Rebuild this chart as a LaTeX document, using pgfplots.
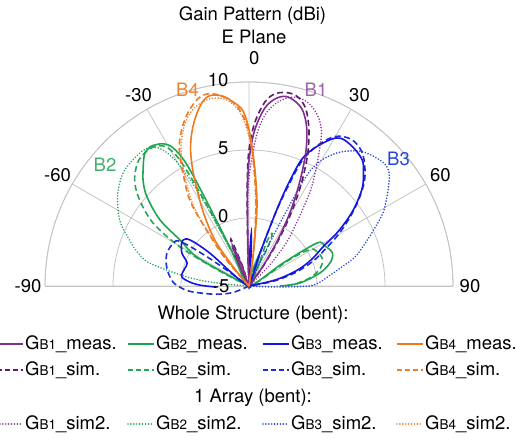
\documentclass[border=0pt]{standalone}
\usepackage{fontspec}
\setmainfont{TeX Gyre Heros}
\usepackage{pgfplots}
\pgfplotsset{compat=1.18}
\usepgfplotslibrary{polar}
\usetikzlibrary{calc}

\definecolor{gridgray}{HTML}{C4C4C4}
\definecolor{pmeas}{HTML}{7E2F8E}
\definecolor{psim}{HTML}{5E1A6E}
\definecolor{psimb}{HTML}{8A3A9A}
\definecolor{gmeas}{HTML}{1FA550}
\definecolor{gsim}{HTML}{28A658}
\definecolor{gsimb}{HTML}{2BA562}
\definecolor{bmeas}{HTML}{1414E6}
\definecolor{bsim}{HTML}{1A2ED2}
\definecolor{bsimb}{HTML}{2448D8}
\definecolor{omeas}{HTML}{EE7A1E}
\definecolor{osim}{HTML}{EC7C26}
\definecolor{osimb}{HTML}{EE8433}

\newcommand\lf{\fontsize{18.5}{22}\selectfont}
\newcommand\gb[1]{G{\fontsize{13.5}{13.5}\selectfont B#1}}

\tikzset{
  meas/.style={line width=1.6pt},
  sim/.style={line width=1.6pt, dash pattern=on 6pt off 3.5pt},
  simb/.style={line width=1.8pt, line cap=round, dash pattern=on 0.01pt off 2.9pt},
}
\pgfplotsset{
  pat/.style={table/x expr={90-\thisrow{a}}, table/y expr={\thisrow{g}+5}},
}

\begin{document}
\begin{tikzpicture}
\begin{polaraxis}[
  scale only axis, width=408pt, height=408pt,
  xmin=0, xmax=180, ymin=0, ymax=15,
  xtick={0,30,...,180}, ytick={5,10,15},
  xticklabels={}, yticklabels={},
  grid=major,
  major grid style={draw=gridgray, line width=0.8pt},
  axis line style={draw=gridgray, line width=0.8pt},
  major tick length=0pt,
  clip=false,
  every axis plot/.append style={smooth, tension=0.55},
]
% ---- B2 (green) ----
\addplot[gsimb, simb] table[pat] {
a g
-87 -5
-84.6 -2.6
-81.7 -0.4
-77 2.5
-73 3.6
-69 4.4
-64 5.5
-59 6.25
-54 6.9
-48 7.45
-43 7.6
-38 7.65
-35 7.45
-32.5 6.9
-30.5 5.8
-29 4.0
-28 1.5
-27 -2.0
-25.5 -5
};
\addplot[gsim, sim] table[pat] {
a g
-65 -5
-63 -2.5
-60.5 0.8
-56.7 3.45
-51.3 5.4
-47 6.5
-42.3 7.2
-39 7.4
-36 7.45
-33 7.3
-30.5 6.8
-28.8 5.6
-27.8 3.0
-27.2 0.0
-26.5 -3.0
-25 -5
22 -1.5
24 -0.8
26 -2.0
28 -5
57 -1.5
59 0.2
63 0.6
70 0.75
76 0.4
82 -0.4
87 -1.5
90 -2.5
};
\addplot[gmeas, meas] table[pat] {
a g
-64 -5
-62.5 -3.5
-60.9 -0.6
-56.3 1.1
-53.4 3.15
-48.9 4.95
-45.5 5.9
-42.4 6.55
-38.5 7.35
-35.5 7.55
-33.5 7.45
-31 7.2
-28.8 6.6
-27.2 5.2
-26.6 2.5
-26.2 -2.0
-25.5 -5
18 -2.5
21 -5
56 -2.0
57.7 0.9
62 1.3
68.5 1.6
74 1.2
79.6 0.3
86.6 -1.25
90 -2.7
};
% ---- B3 (blue) ----
\addplot[bsimb, simb] table[pat] {
a g
24 -5
25.5 -2.0
26.5 1.0
27.5 4.0
29.5 5.5
34 6.85
40 7.9
47 8.4
51 8.25
54.5 7.6
58 6.9
61.5 6.2
66 5.0
71 3.85
75 3.0
79 1.8
83 0.9
87 0.2
90 -0.6
92 -3.0
94 -5
};
\addplot[bsim, sim] table[pat] {
a g
-120 -5
-112 -3.7
-104 -2.5
-98 -1.35
-94 -0.4
-88 0.5
-81 1.0
-75 1.3
-68 1.5
-61 1.4
-57 1.0
-55 -1.5
-53 -5
17 -5
18.5 -2.5
20 0.8
21.5 3.0
23 5.0
26 6.5
30 7.7
35 8.15
40 7.9
44.3 7.2
48 6.4
52 5.2
56 3.9
60 2.6
64 1.3
69 0.0
74 -1.5
79 -3.2
84 -5
};
\addplot[bmeas, meas] table[pat] {
a g
-92 -2.6
-89 -1.4
-86 -0.6
-82 0.0
-75 -0.1
-69.6 -0.15
-63.8 0.5
-58 0.85
-55 0.9
-52 0.5
-50 -1.25
-48 -5
1 -3.0
2.5 -1.1
4 -3.0
17 -5
18.5 -2.5
20 0.9
21 3.0
22.5 5.0
25 6.1
29 7.3
32 7.8
37 7.75
42 7.45
45 6.9
49 6.05
53 4.8
56 3.7
59 2.5
62 1.2
67 0.0
72 -1.3
77 -3.0
82 -5
};
% ---- B1 (purple) ----
\addplot[psimb, simb] table[pat] {
a g
-3 -5
-2 -3.0
-1 0.5
0 3.0
3 6.2
6 7.9
10 8.9
14 9.3
18 9.15
22 8.5
25 7.6
27 6.5
30 4.8
33 3.2
37 0.8
41 -0.9
45 -3.0
48 -5
};
\addplot[psim, sim] table[pat] {
a g
-28 -5
-24 -2.5
-21 -1.3
-18 -3.5
-15 -5
-2 -2.5
-1 2.5
0 5.0
2 7.0
5 8.6
8 9.3
12 9.5
15 9.3
18 8.6
21 7.3
24 5.6
27 3.5
30 1.2
33 -1.2
36 -3.4
39 -5
};
\addplot[pmeas, meas] table[pat] {
a g
-28 -5
-25 -3.5
-22 -1.8
-19 -3.5
-16 -5
-2 -3.5
-1 1.6
0 4.2
2 6.4
5 8.1
8 8.9
11 9.2
14 9.0
17 8.5
20 7.4
23 5.7
26 3.5
29 1.3
32 -1.0
35 -3.2
38 -5
};
% ---- B4 (orange) ----
\addplot[osimb, simb] table[pat] {
a g
-44 -5
-41 -2.8
-38 -0.8
-35 2.0
-31 4.0
-27 6.0
-23 7.4
-19 8.4
-15 8.9
-11 9.05
-7 8.8
-3 7.8
0 6.0
2 4.2
4 2.0
6 -0.5
8 -3.5
10 -5
};
\addplot[osim, sim] table[pat] {
a g
-44 -5
-41 -2.5
-38 -0.5
-35 2.4
-31 4.3
-27 6.3
-23 7.6
-19 8.6
-15 9.3
-12 9.45
-8 9.1
-4 8.3
-1 7.0
1 5.3
3 3.0
5 0.8
7 -2.0
9 -5
};
\addplot[omeas, meas] table[pat] {
a g
-42 -5
-40 -3.5
-37 -1.0
-33 0.8
-30 2.2
-26 4.4
-23 6.0
-20 7.2
-17 8.2
-14 9.0
-11.5 9.3
-8 9.1
-5 8.6
-2 7.9
0 6.5
2 4.5
4 2.5
6 0.5
8 -3.0
10 -5
};
% angle labels
\foreach \t in {-90,-60,-30,30,60,90} {
  \edef\tmp{\noexpand\node[font=\noexpand\lf] at (axis cs:{90-\t},16.25) {\t};}
  \tmp
}
\node[font=\lf] at (axis cs:88.7,16.8) {0};
% radial labels
\node[font=\lf, anchor=east] at (axis cs:90,15) [xshift=-17pt, yshift=2pt] {10};
\node[font=\lf, anchor=east] at (axis cs:90,10) [xshift=-17pt, yshift=2pt] {5};
\node[font=\lf, anchor=east] at (axis cs:90,5) [xshift=-17pt, yshift=2pt] {0};
\node[font=\lf, anchor=east] at (axis cs:90,0) [xshift=-16pt, yshift=0pt] {-5};
\coordinate (C) at (axis cs:0,0);
\end{polaraxis}
\begin{scope}[shift={(C)}]
  \node[font=\lf, anchor=base] at (3.5pt,265.5pt) {Gain Pattern (dBi)};
  \node[font=\lf, anchor=base] at (5pt,242.7pt) {E Plane};
  % beam labels
  \node[font=\lf, text=osimb] at (-61.5pt,196pt) {B4};
  \node[font=\lf, text=pmeas!75!white] at (67pt,196.5pt) {B1};
  \node[font=\lf, text=gmeas!85!white] at (-144pt,121pt) {B2};
  \node[font=\lf, text=bsimb] at (149.5pt,127.5pt) {B3};
  % legend
  \node[font=\lf] at (4pt,-29pt) {Whole Structure (bent):};
  \node[font=\lf] at (4pt,-112pt) {1 Array (bent):};
  \foreach \x/\c/\n in {-252/pmeas/1, -121/gmeas/2, 14/bmeas/3, 148/omeas/4} {
    \draw[\c, meas] (\x pt,-58pt) -- ++(26pt,0);
    \node[font=\lf, anchor=west, inner sep=0pt] at (\x pt+28pt,-58pt) {\gb{\n}\_meas.};
  }
  \foreach \x/\c/\n in {-252/psim/1, -121/gsim/2, 14/bsim/3, 148/osim/4} {
    \draw[\c, sim, dash pattern=on 5pt off 3pt] (\x pt,-84pt) -- ++(26pt,0);
    \node[font=\lf, anchor=west, inner sep=0pt] at (\x pt+28pt,-84pt) {\gb{\n}\_sim.};
  }
  \foreach \x/\c/\n in {-252/psimb/1, -121/gsimb/2, 14/bsimb/3, 148/osimb/4} {
    \draw[\c, simb] (\x pt,-138pt) -- ++(26pt,0);
    \node[font=\lf, anchor=west, inner sep=0pt] at (\x pt+28pt,-138pt) {\gb{\n}\_sim2.};
  }
  \pgfresetboundingbox
  \useasboundingbox (-249pt,-155pt) rectangle (283pt,286pt);
\end{scope}
\end{tikzpicture}
\end{document}
